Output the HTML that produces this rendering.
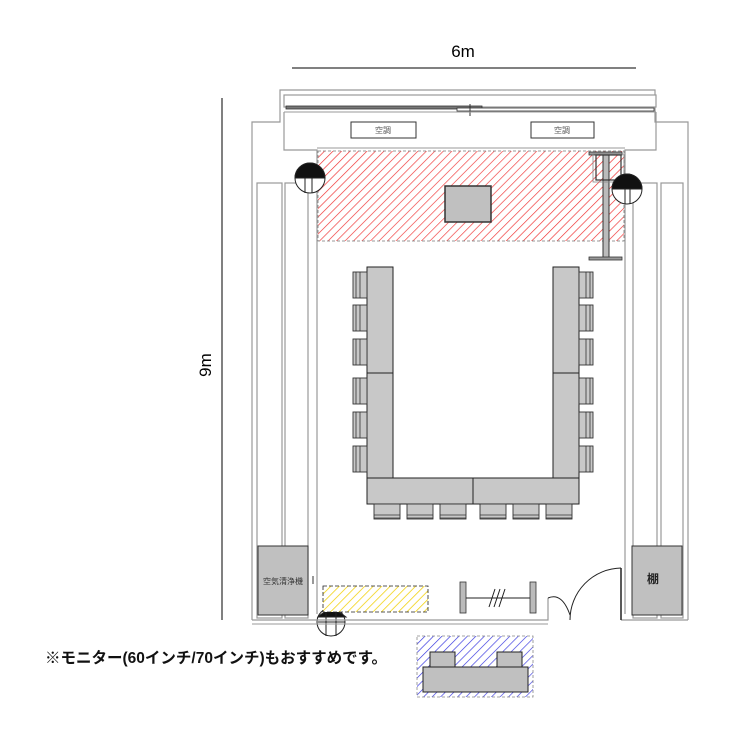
<!DOCTYPE html>
<html><head><meta charset="utf-8"><style>
html,body{margin:0;padding:0;background:#fff;}
svg{display:block;}
text{font-family:"Liberation Sans","Noto Sans CJK JP",sans-serif;}
</style></head><body>
<svg width="750" height="750" viewBox="0 0 750 750" xmlns="http://www.w3.org/2000/svg">
<defs>
<pattern id="hr" patternUnits="userSpaceOnUse" width="6" height="6" patternTransform="rotate(45)">
<rect width="6" height="6" fill="#fff"/><line x1="0" y1="0" x2="0" y2="6" stroke="#f03030" stroke-width="1.3"/></pattern>
<pattern id="hy" patternUnits="userSpaceOnUse" width="6" height="6" patternTransform="rotate(45)">
<rect width="6" height="6" fill="#fff"/><line x1="0" y1="0" x2="0" y2="6" stroke="#f2cf00" stroke-width="1.5"/></pattern>
<pattern id="hb" patternUnits="userSpaceOnUse" width="6" height="6" patternTransform="rotate(45)">
<rect width="6" height="6" fill="#fff"/><line x1="0" y1="0" x2="0" y2="6" stroke="#3535e0" stroke-width="1.3"/></pattern>
</defs>

<line x1="292" y1="68" x2="636" y2="68" stroke="#000" stroke-width="1"/>
<text x="463" y="57" font-size="17" text-anchor="middle">6m</text>
<line x1="222" y1="98" x2="222" y2="620" stroke="#000" stroke-width="1"/>
<text x="0" y="0" font-size="17" text-anchor="middle" transform="translate(211,365) rotate(-90)">9m</text>

<path d="M252,620 L252,122 L280,122 L280,90 L655,90 L655,122 L688,122 L688,620" fill="none" stroke="#999" stroke-width="1.2"/>
<path d="M317,614 L317,150 L284,150 L284,122 L284,112 M625,614 L625,150 L656,150 L656,112" fill="none" stroke="#999" stroke-width="1.2"/>
<rect x="284" y="95" width="372" height="12" fill="#fff" stroke="#999" stroke-width="1.2"/>
<rect x="286" y="106" width="196" height="3" fill="#777" stroke="#333" stroke-width="0.8"/>
<rect x="457" y="108" width="197" height="3" fill="#fff" stroke="#333" stroke-width="0.8"/>
<line x1="470" y1="104" x2="470" y2="116" stroke="#333"/>
<line x1="284" y1="112" x2="656" y2="112" stroke="#999"/>
<line x1="317" y1="148" x2="625" y2="148" stroke="#999"/>

<g fill="#fff" stroke="#999" stroke-width="1.2">
<rect x="257" y="183" width="25" height="435"/>
<rect x="285" y="183" width="23" height="435"/>
<rect x="633" y="183" width="24" height="435"/>
<rect x="661" y="183" width="22" height="435"/>
</g>

<rect x="351" y="122" width="65" height="16" fill="#fff" stroke="#333"/>
<text x="383" y="133" font-size="8" text-anchor="middle" fill="#555">空調</text>
<rect x="531" y="122" width="63" height="16" fill="#fff" stroke="#333"/>
<text x="562" y="133" font-size="8" text-anchor="middle" fill="#555">空調</text>

<rect x="318" y="151" width="306" height="90" fill="url(#hr)" stroke="#777" stroke-width="0.8" stroke-dasharray="3,2"/>
<rect x="445" y="186" width="46" height="36" fill="#c0c0c0" stroke="#333" stroke-width="1.5"/>

<rect x="603" y="154" width="6" height="104" fill="#bbb" stroke="#333" stroke-width="1"/>
<rect x="589" y="152" width="33" height="3" fill="#999" stroke="#333" stroke-width="0.8"/>
<rect x="596" y="155" width="25" height="25" fill="none" stroke="#333" stroke-width="1.2"/>
<rect x="593" y="154" width="31" height="28" fill="none" stroke="#888" stroke-width="0.8"/>
<rect x="589" y="257" width="33" height="3" fill="#999" stroke="#333" stroke-width="0.8"/>

<g stroke="#222" stroke-width="1">
<circle cx="310" cy="178" r="15" fill="#fff"/>
<path d="M295,178 A15,15 0 0 1 325,178 Z" fill="#111"/>
<line x1="305" y1="178" x2="305" y2="193"/><line x1="312" y1="178" x2="312" y2="193"/>
<circle cx="627" cy="189" r="15" fill="#fff"/>
<path d="M612,189 A15,15 0 0 1 642,189 Z" fill="#111"/>
<line x1="625" y1="189" x2="625" y2="204"/><line x1="630" y1="189" x2="630" y2="204"/>
<circle cx="331" cy="622" r="14" fill="#fff"/>
<path d="M318,617 Q331,604 346,617 Z" fill="#111"/>
<line x1="326" y1="610" x2="326" y2="636"/><line x1="336" y1="610" x2="336" y2="636"/>
<line x1="318" y1="622" x2="345" y2="622"/>
</g>

<g fill="#c8c8c8" stroke="#222" stroke-width="1">
<rect x="367" y="267" width="26" height="106"/>
<rect x="367" y="373" width="26" height="105"/>
<rect x="553" y="267" width="26" height="106"/>
<rect x="553" y="373" width="26" height="105"/>
<rect x="367" y="478" width="106" height="26"/>
<rect x="473" y="478" width="106" height="26"/>
</g>
<g fill="#c8c8c8" stroke="#333" stroke-width="0.9">
<rect x="353" y="272" width="14" height="26"/><rect x="353" y="305" width="14" height="26"/><rect x="353" y="339" width="14" height="26"/>
<rect x="353" y="378" width="14" height="26"/><rect x="353" y="412" width="14" height="26"/><rect x="353" y="446" width="14" height="26"/>
<rect x="579" y="272" width="14" height="26"/><rect x="579" y="305" width="14" height="26"/><rect x="579" y="339" width="14" height="26"/>
<rect x="579" y="378" width="14" height="26"/><rect x="579" y="412" width="14" height="26"/><rect x="579" y="446" width="14" height="26"/>
<rect x="374" y="504" width="26" height="15"/><rect x="407" y="504" width="26" height="15"/><rect x="440" y="504" width="26" height="15"/>
<rect x="480" y="504" width="26" height="15"/><rect x="513" y="504" width="26" height="15"/><rect x="546" y="504" width="26" height="15"/>
</g>
<g fill="none" stroke="#333" stroke-width="0.8">
<path d="M356,272 v26 M360,272 v26 M356,305 v26 M360,305 v26 M356,339 v26 M360,339 v26 M356,378 v26 M360,378 v26 M356,412 v26 M360,412 v26 M356,446 v26 M360,446 v26"/>
<path d="M590,272 v26 M586,272 v26 M590,305 v26 M586,305 v26 M590,339 v26 M586,339 v26 M590,378 v26 M586,378 v26 M590,412 v26 M586,412 v26 M590,446 v26 M586,446 v26"/>
<path d="M374,515 h26 M407,515 h26 M440,515 h26 M480,515 h26 M513,515 h26 M546,515 h26 M374,518 h26 M407,518 h26 M440,518 h26 M480,518 h26 M513,518 h26 M546,518 h26"/>
</g>

<rect x="258" y="546" width="50" height="69" fill="#c0c0c0" stroke="#333" stroke-width="1"/>
<text x="283" y="584" font-size="8" text-anchor="middle" fill="#333">空気清浄機</text>
<line x1="313" y1="576" x2="313" y2="584" stroke="#333"/>
<rect x="632" y="546" width="50" height="69" fill="#c0c0c0" stroke="#333" stroke-width="1"/>
<text x="653" y="583" font-size="12" text-anchor="middle" fill="#222" font-weight="bold">棚</text>

<path d="M252,620 L548,620 L548,598" fill="none" stroke="#999" stroke-width="1.2"/>
<path d="M252,624 L548,624" fill="none" stroke="#999" stroke-width="1"/>
<path d="M621,620 L688,620" fill="none" stroke="#999" stroke-width="1.2"/>
<path d="M548,598 Q562,592 570,615" fill="none" stroke="#222" stroke-width="1"/>
<path d="M570,620 A52,52 0 0 1 621,568" fill="none" stroke="#222" stroke-width="1"/>
<line x1="621" y1="568" x2="621" y2="620" stroke="#222" stroke-width="1.5"/>

<rect x="323" y="586" width="105" height="26" fill="url(#hy)" stroke="#222" stroke-width="0.8" stroke-dasharray="4,2"/>

<rect x="460" y="582" width="6" height="31" fill="#bbb" stroke="#333" stroke-width="0.8"/>
<rect x="530" y="582" width="6" height="31" fill="#bbb" stroke="#333" stroke-width="0.8"/>
<line x1="466" y1="598" x2="530" y2="598" stroke="#222" stroke-width="1"/>
<path d="M489,607 L495,589 M494,607 L500,589 M499,607 L505,589" stroke="#222" stroke-width="1"/>

<text x="45" y="663" font-size="15.5" font-weight="bold" fill="#111">※モニター(60インチ/70インチ)もおすすめです。</text>

<rect x="417" y="636" width="116" height="61" fill="url(#hb)" stroke="#888" stroke-width="0.8" stroke-dasharray="3,2"/>
<rect x="430" y="652" width="25" height="16" fill="#c0c0c0" stroke="#222"/>
<rect x="497" y="652" width="25" height="16" fill="#c0c0c0" stroke="#222"/>
<rect x="423" y="667" width="105" height="25" fill="#c0c0c0" stroke="#222"/>
</svg>
</body></html>
